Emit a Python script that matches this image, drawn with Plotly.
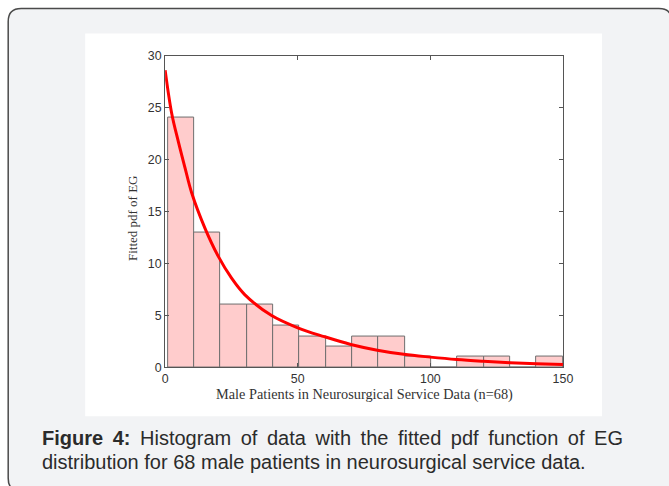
import plotly.graph_objects as go

# ---- data ----
bin_counts = [24, 13, 6, 6, 4, 3, 2, 3, 3, 1, 0, 1, 1, 0, 1]
bin_low = 1.0
bin_high = 150.0

curve_x = [0, 2.5, 5, 7.5, 10, 15, 20, 25, 30, 40, 50, 60, 70, 80, 90, 100, 110, 120, 130, 140, 150]
curve_y = [28.6, 24.4, 21.7, 19.2, 16.8, 13.4, 10.7, 8.6, 7.0, 5.0, 3.8, 2.95, 2.2, 1.65, 1.25, 0.98, 0.75, 0.58, 0.44, 0.34, 0.26]

x_ticks = [0, 50, 100, 150]
y_ticks = [0, 5, 10, 15, 20, 25, 30]

x_title = "Male Patients in Neurosurgical Service Data (n=68)"
y_title = "Fitted pdf of EG"
caption_bold = "Figure 4:"
caption_line1 = "Histogram of data with the fitted pdf function of EG"
caption_line2 = "distribution for 68 male patients in neurosurgical service data."

W, H = 669, 486
# the photographed page shows up slightly shrunk; map picture pixels to page pixels
SX, AX = 0.981, 2.8
SY, AY = 0.972, 6.4

n_bins = len(bin_counts)
bw = (bin_high - bin_low) / n_bins
centers = [bin_low + bw * (i + 0.5) for i in range(n_bins)]

fig = go.Figure()
fig.add_trace(go.Bar(
    x=centers, y=bin_counts, width=bw,
    marker=dict(color="#ffcccc", line=dict(color="#6e6e6e", width=1)),
    hoverinfo="skip", showlegend=False,
))
fig.add_trace(go.Scatter(
    x=curve_x, y=curve_y, mode="lines",
    line=dict(color="#ff0000", width=3, shape="spline", smoothing=1.0),
    showlegend=False, hoverinfo="skip",
))

def px(ox):
    return ((ox - AX) / SX) / W

def py(oy):
    return 1 - ((oy - AY) / SY) / H

# rounded outer box
bx0, by0, bx1, by1, r = 8, 8, 672, 491, 13
def P(x, y):
    return f"{px(x):.5f},{py(y):.5f}"
path = (f"M {P(bx0 + r, by0)} L {P(bx1 - r, by0)} Q {P(bx1, by0)} {P(bx1, by0 + r)} "
        f"L {P(bx1, by1 - r)} Q {P(bx1, by1)} {P(bx1 - r, by1)} "
        f"L {P(bx0 + r, by1)} Q {P(bx0, by1)} {P(bx0, by1 - r)} "
        f"L {P(bx0, by0 + r)} Q {P(bx0, by0)} {P(bx0 + r, by0)} Z")

shapes = [
    dict(type="path", xref="paper", yref="paper", path=path,
         fillcolor="#f2f3f5", line=dict(color="#4a4a4a", width=1.5), layer="below"),
    dict(type="rect", xref="paper", yref="paper",
         x0=px(85), x1=px(602), y0=py(416), y1=py(33),
         fillcolor="#ffffff", line=dict(width=0), layer="below"),
]

def justify(s):
    return " \u2009".join(s.split(" "))

cap_font = dict(family="Liberation Sans, Arial", size=20.0, color="#2b2b2b")
title_font = dict(family="Liberation Serif, Times New Roman", color="#333333")
annotations = [
    dict(xref="paper", yref="paper", x=px(40.3), y=py(438), xanchor="left", yanchor="middle",
         showarrow=False, align="left",
         text=f"<b>{justify(caption_bold)}</b> \u2009{justify(caption_line1)}",
         font=cap_font),
    dict(xref="paper", yref="paper", x=px(40.3), y=py(462), xanchor="left", yanchor="middle",
         showarrow=False, align="left",
         text=caption_line2, font=cap_font),
    dict(xref="paper", yref="paper", x=px(364), y=py(394), xanchor="center", yanchor="middle",
         showarrow=False, borderpad=0, text=x_title, font=dict(size=14.3, **title_font)),
    dict(xref="paper", yref="paper", x=px(133), y=py(217.5), xanchor="center", yanchor="middle",
         showarrow=False, text=y_title, textangle=-90, font=dict(size=13.0, **title_font)),
]

axis_common = dict(
    showline=True, linecolor="#555555", linewidth=1, mirror="ticks",
    ticks="inside", ticklen=4, tickcolor="#555555",
    showgrid=False, zeroline=False,
    tickfont=dict(family="Liberation Sans, Arial", size=12.4, color="#333333"),
)

fig.update_layout(
    width=W, height=H,
    margin=dict(l=0, r=0, t=0, b=0),
    paper_bgcolor="#ffffff", plot_bgcolor="#ffffff",
    bargap=0,
    shapes=shapes, annotations=annotations,
    xaxis=dict(domain=[px(165), px(563)], range=[0, 150], tickvals=x_ticks, **axis_common),
    yaxis=dict(domain=[py(367), py(55)], range=[0, 30], tickvals=y_ticks, **axis_common),
)

fig.write_html("out.html")
